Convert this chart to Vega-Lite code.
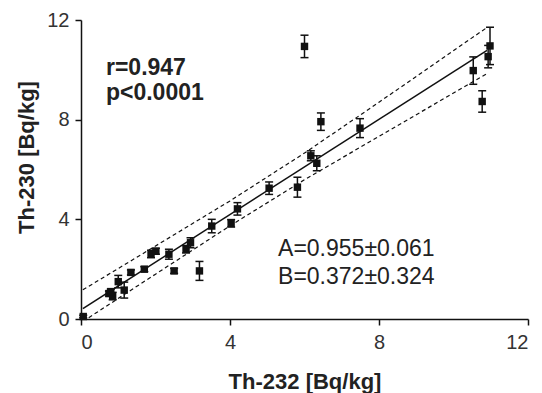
{
  "$schema": "https://vega.github.io/schema/vega-lite/v6.json",
  "width": 447,
  "height": 299,
  "autosize": {"type": "none"},
  "padding": {"left": 81, "top": 20, "right": 14, "bottom": 74},
  "background": "white",
  "config": {
    "view": {"stroke": null},
    "font": "Liberation Sans",
    "axis": {
      "grid": false,
      "domainColor": "#111",
      "domainWidth": 1.5,
      "tickColor": "#111",
      "tickWidth": 1.5,
      "tickSize": 6,
      "labelFont": "Liberation Sans",
      "labelFontSize": 20,
      "labelColor": "#333",
      "titleFont": "Liberation Sans",
      "titleFontSize": 22,
      "titleFontWeight": "bold",
      "titleColor": "#222"
    }
  },
  "datasets": {
    "pts": [
      {"x": 0.06, "y": 0.1, "lo": 0.05, "hi": 0.15},
      {"x": 0.75, "y": 1.02, "lo": 0.92, "hi": 1.12},
      {"x": 0.85, "y": 0.92, "lo": 0.77, "hi": 1.07},
      {"x": 0.8, "y": 1.1, "lo": 1.0, "hi": 1.2},
      {"x": 1.0, "y": 1.5, "lo": 1.25, "hi": 1.75},
      {"x": 1.16, "y": 1.16, "lo": 0.84, "hi": 1.48},
      {"x": 1.34, "y": 1.87, "lo": 1.77, "hi": 1.97},
      {"x": 1.7, "y": 2.0, "lo": 1.9, "hi": 2.1},
      {"x": 1.88, "y": 2.61, "lo": 2.46, "hi": 2.76},
      {"x": 2.01, "y": 2.72, "lo": 2.6, "hi": 2.84},
      {"x": 2.36, "y": 2.6, "lo": 2.4, "hi": 2.8},
      {"x": 2.5, "y": 1.93, "lo": 1.83, "hi": 2.03},
      {"x": 2.82, "y": 2.8, "lo": 2.65, "hi": 2.95},
      {"x": 2.94, "y": 3.06, "lo": 2.86, "hi": 3.26},
      {"x": 3.18, "y": 1.93, "lo": 1.55, "hi": 2.31},
      {"x": 3.51, "y": 3.73, "lo": 3.46, "hi": 4.0},
      {"x": 4.03, "y": 3.84, "lo": 3.69, "hi": 3.99},
      {"x": 4.2, "y": 4.42, "lo": 4.17, "hi": 4.67},
      {"x": 5.05, "y": 5.25, "lo": 5.0, "hi": 5.5},
      {"x": 5.81, "y": 5.29, "lo": 4.89, "hi": 5.69},
      {"x": 6.0, "y": 10.94, "lo": 10.49, "hi": 11.39},
      {"x": 6.17, "y": 6.55, "lo": 6.35, "hi": 6.75},
      {"x": 6.33, "y": 6.25, "lo": 5.95, "hi": 6.55},
      {"x": 6.44, "y": 7.92, "lo": 7.57, "hi": 8.27},
      {"x": 7.49, "y": 7.66, "lo": 7.28, "hi": 8.04},
      {"x": 10.53, "y": 9.97, "lo": 9.42, "hi": 10.52},
      {"x": 10.77, "y": 8.73, "lo": 8.3, "hi": 9.16},
      {"x": 10.93, "y": 10.53, "lo": 10.08, "hi": 10.98},
      {"x": 10.98, "y": 10.96, "lo": 10.21, "hi": 11.71}
    ],
    "band": [
      {"x": 0.05, "fit": 0.42, "upper": 1.17, "lower": -0.1},
      {"x": 2, "upper": 2.93, "lower": 1.8},
      {"x": 4, "upper": 4.74, "lower": 3.74},
      {"x": 6, "upper": 6.66, "lower": 5.59},
      {"x": 8, "upper": 8.7, "lower": 7.33},
      {"x": 10.9, "fit": 10.78, "upper": 11.7, "lower": 9.85}
    ],
    "boldlabels": [
      {"x": 0.67, "y": 9.8, "t": "r=0.947"},
      {"x": 0.67, "y": 8.8, "t": "p<0.0001"}
    ],
    "labels": [
      {"x": 5.29, "y": 2.53, "t": "A=0.955±0.061"},
      {"x": 5.29, "y": 1.41, "t": "B=0.372±0.324"}
    ]
  },
  "encoding": {
    "x": {
      "field": "x", "type": "quantitative",
      "scale": {"domain": [0, 12], "nice": false, "zero": false},
      "axis": {"values": [0, 4, 8, 12], "title": "Th-232 [Bq/kg]", "labelPadding": 7, "titleBaseline": "middle", "titleY": 62}
    }
  },
  "layer": [
    {
      "data": {"name": "band"},
      "mark": {"type": "line", "color": "#111", "strokeWidth": 1.2, "strokeDash": [4, 3], "clip": true},
      "encoding": {"y": {"field": "upper", "type": "quantitative", "scale": {"domain": [0, 12], "nice": false}, "axis": {"values": [0, 4, 8, 12], "title": "Th-230 [Bq/kg]", "labelPadding": 6, "titleX": -55, "titleY": 137, "titleBaseline": "middle"}}}
    },
    {
      "data": {"name": "band"},
      "mark": {"type": "line", "color": "#111", "strokeWidth": 1.2, "strokeDash": [4, 3], "clip": true},
      "encoding": {"y": {"field": "lower", "type": "quantitative"}}
    },
    {
      "data": {"name": "band"},
      "transform": [{"filter": "isValid(datum.fit)"}],
      "mark": {"type": "line", "color": "#111", "strokeWidth": 1.5, "clip": true},
      "encoding": {"y": {"field": "fit", "type": "quantitative"}}
    },
    {
      "data": {"name": "pts"},
      "mark": {"type": "rule", "color": "#111", "strokeWidth": 1.5},
      "encoding": {"y": {"field": "lo", "type": "quantitative"}, "y2": {"field": "hi"}}
    },
    {
      "data": {"name": "pts"},
      "mark": {"type": "tick", "orient": "horizontal", "color": "#111", "size": 8, "thickness": 1.5, "opacity": 1},
      "encoding": {"y": {"field": "lo", "type": "quantitative"}}
    },
    {
      "data": {"name": "pts"},
      "mark": {"type": "tick", "orient": "horizontal", "color": "#111", "size": 8, "thickness": 1.5, "opacity": 1},
      "encoding": {"y": {"field": "hi", "type": "quantitative"}}
    },
    {
      "data": {"name": "pts"},
      "mark": {"type": "square", "color": "#111", "filled": true, "opacity": 1, "size": 55},
      "encoding": {"y": {"field": "y", "type": "quantitative"}}
    },
    {
      "data": {"name": "boldlabels"},
      "mark": {"type": "text", "align": "left", "baseline": "alphabetic", "color": "#222", "fontSize": 23, "fontWeight": "bold"},
      "encoding": {
        "y": {"field": "y", "type": "quantitative"},
        "text": {"field": "t"}
      }
    },
    {
      "data": {"name": "labels"},
      "mark": {"type": "text", "align": "left", "baseline": "alphabetic", "color": "#222", "fontSize": 23},
      "encoding": {
        "y": {"field": "y", "type": "quantitative"},
        "text": {"field": "t"}
      }
    }
  ]
}
